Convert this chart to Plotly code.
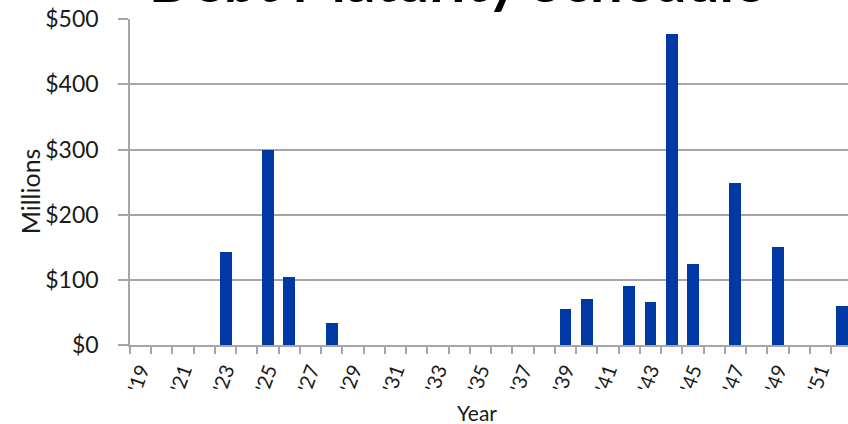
import plotly.graph_objects as go

years = list(range(2019, 2053))
values = [0, 0, 0, 0, 143, 0, 300, 104, 0, 34,
          0, 0, 0, 0, 0, 0, 0, 0, 0, 0,
          55, 71, 0, 90, 66, 478, 124, 0, 249, 0,
          150, 0, 0, 60]
tick_years = list(range(2019, 2052, 2))
tick_labels = ["'" + str(y)[2:] for y in tick_years]
y_ticks = [0, 100, 200, 300, 400, 500]
y_labels = ["$" + str(v) for v in y_ticks]

FONT = "Lato"
GRID = "#a6a6a6"
TXT = "#1a1a1a"

fig = go.Figure()
fig.add_trace(go.Bar(x=years, y=values, width=0.56,
                     marker=dict(color="#0039a6", line=dict(width=0)),
                     showlegend=False))

fig.update_layout(
    width=848, height=424,
    margin=dict(l=130, r=0, t=19, b=79, autoexpand=False),
    paper_bgcolor="white", plot_bgcolor="white",
    font=dict(family=FONT, color=TXT, size=19),
    bargap=0,
    annotations=[
        dict(text="<b>Debt Maturity Schedule</b>", xref="paper", yref="paper",
             x=0.455, y=1, xanchor="center", yanchor="bottom", yshift=3,
             showarrow=False, font=dict(family=FONT, size=58, color="black")),
        dict(text="Millions", xref="paper", yref="paper", x=-0.139, y=0.472,
             xanchor="center", yanchor="middle", textangle=-90, showarrow=False,
             font=dict(family=FONT, size=25, color=TXT)),
        dict(text="Year", xref="paper", yref="paper", x=0.483, y=0,
             xanchor="center", yanchor="middle", yshift=-67, showarrow=False,
             font=dict(family=FONT, size=21, color=TXT)),
    ],
)

fig.update_xaxes(
    range=[2018.5, 2052.3], showgrid=False, zeroline=False,
    showline=True, linecolor=GRID, linewidth=1.5,
    tickvals=tick_years, ticktext=tick_labels, tickangle=-70,
    ticks="", ticklabelstandoff=4,
    tickfont=dict(family=FONT, size=20, color=TXT),
    minor=dict(tick0=2018.5, dtick=1, ticks="outside", ticklen=7,
               tickcolor=GRID, tickwidth=1.5, showgrid=False),
)
fig.update_yaxes(
    range=[0, 500.4], tickvals=y_ticks, ticktext=y_labels,
    showgrid=True, gridcolor=GRID, gridwidth=1.5, zeroline=False,
    showline=True, linecolor=GRID, linewidth=1.5,
    ticks="outside", ticklen=10, tickcolor=GRID, tickwidth=1.5,
    ticklabelstandoff=15, ticklabeloverflow="allow",
    tickfont=dict(family=FONT, size=23, color=TXT),
)

fig.write_html("out.html",
               config={"displayModeBar": False},
               post_script="document.body.style.margin='0';"
                           "document.body.style.overflow='hidden';")
